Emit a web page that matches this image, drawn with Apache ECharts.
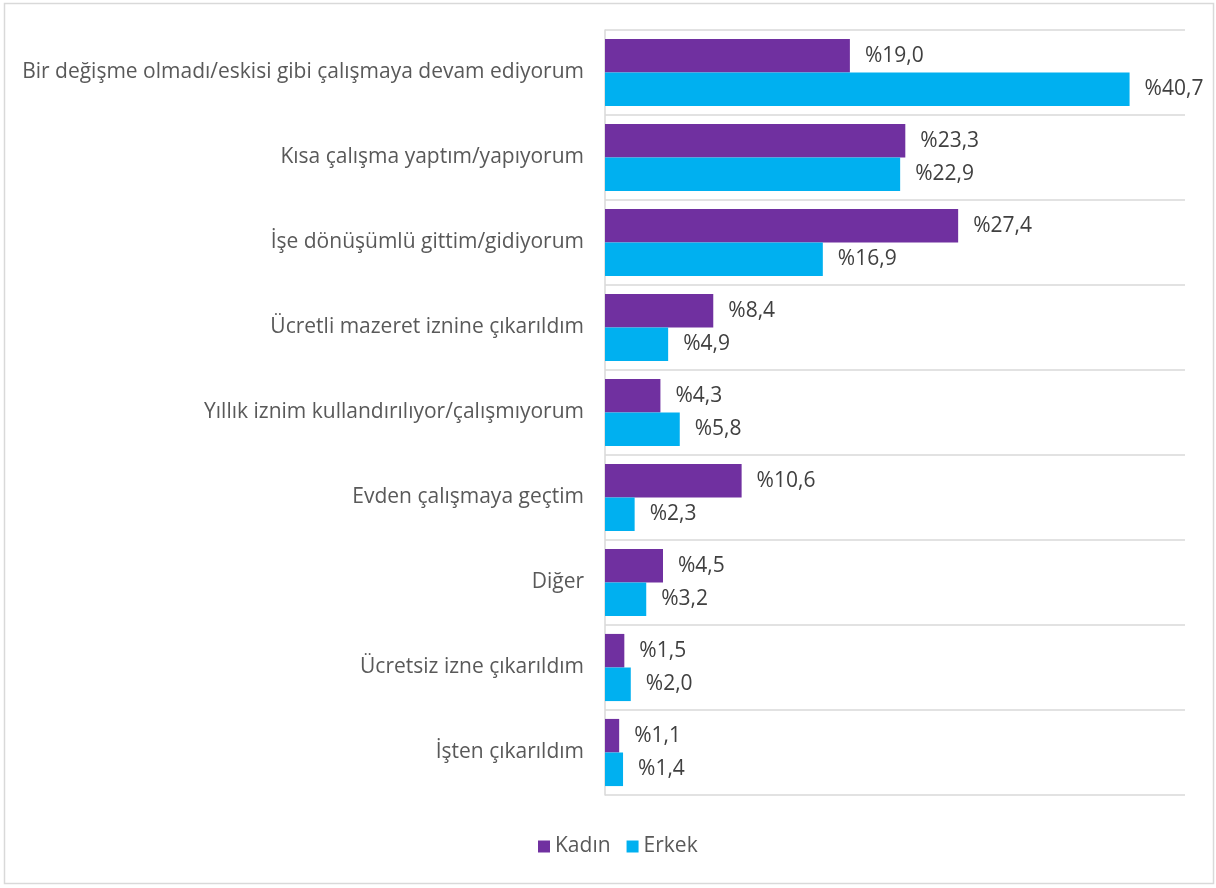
<!DOCTYPE html>
<html>
<head>
<meta charset="utf-8">
<script src="https://cdn.jsdelivr.net/npm/echarts@6/dist/echarts.min.js"></script>
<style>
  html, body { margin: 0; padding: 0; background: #fff; }
  #chart { width: 1216px; height: 888px; }
</style>
</head>
<body>
<div id="chart"></div>
<script>
// categories top to bottom
var categories = [
  'Bir değişme olmadı/eskisi gibi çalışmaya devam ediyorum',
  'Kısa çalışma yaptım/yapıyorum',
  'İşe dönüşümlü gittim/gidiyorum',
  'Ücretli mazeret iznine çıkarıldım',
  'Yıllık iznim kullandırılıyor/çalışmıyorum',
  'Evden çalışmaya geçtim',
  'Diğer',
  'Ücretsiz izne çıkarıldım',
  'İşten çıkarıldım'
];
var kadin = [19.0, 23.3, 27.4, 8.4, 4.3, 10.6, 4.5, 1.5, 1.1];
var erkek = [40.7, 22.9, 16.9, 4.9, 5.8, 2.3, 3.2, 2.0, 1.4];

var fontFam = '"Open Sans", "Noto Sans", sans-serif';

function pct(p) {
  return '%' + p.value.toFixed(1).replace('.', ',');
}

var chart = echarts.init(document.getElementById('chart'));
var option = {
  animation: false,
  textStyle: { fontFamily: fontFam },
  graphic: [{
    type: 'rect',
    shape: { x: 4.5, y: 3.5, width: 1209, height: 880 },
    style: { fill: 'none', stroke: '#D9D9D9', lineWidth: 1.5 },
    silent: true
  }],
  grid: { left: 605, right: 31, top: 30, bottom: 93 },
  legend: {
    bottom: 26,
    left: 533,
    icon: 'rect',
    itemWidth: 12,
    itemHeight: 12,
    itemGap: 16,
    textStyle: { fontSize: 21, color: '#595959', fontFamily: fontFam },
    data: ['Kadın', 'Erkek']
  },
  xAxis: {
    type: 'value',
    min: 0,
    max: 45,
    axisLabel: { show: false },
    axisLine: { show: false },
    axisTick: { show: false },
    splitLine: { show: false }
  },
  yAxis: {
    type: 'category',
    inverse: true,
    data: categories,
    axisLine: { show: true, lineStyle: { color: '#D9D9D9', width: 1.5 } },
    axisTick: { show: false },
    axisLabel: { fontSize: 21, color: '#595959', margin: 21, fontFamily: fontFam },
    splitLine: { show: true, lineStyle: { color: '#D9D9D9', width: 1.5 } }
  },
  series: [
    {
      name: 'Kadın',
      type: 'bar',
      data: kadin,
      barGap: '0%',
      barCategoryGap: '21%',
      itemStyle: { color: '#7030A0' },
      label: {
        show: true, position: 'right', distance: 15,
        formatter: pct, fontSize: 21, color: '#404040', fontFamily: fontFam
      }
    },
    {
      name: 'Erkek',
      type: 'bar',
      data: erkek,
      itemStyle: { color: '#00B0F0' },
      label: {
        show: true, position: 'right', distance: 15,
        formatter: pct, fontSize: 21, color: '#404040', fontFamily: fontFam
      }
    }
  ]
};
chart.setOption(option);
</script>
</body>
</html>
